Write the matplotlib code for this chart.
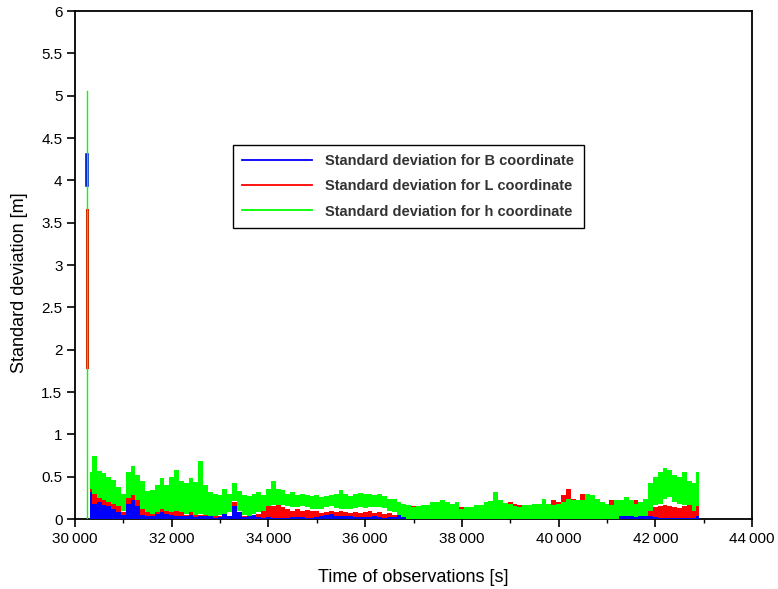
import numpy as np
import matplotlib
matplotlib.use("Agg")
from matplotlib import pyplot as plt
from matplotlib.lines import Line2D
from matplotlib.ticker import MultipleLocator, FuncFormatter

plt.rcParams['font.family'] = ['Liberation Sans', 'DejaVu Sans']

# epochs of the band data (s), one every 100 s
t_obs = np.arange(30300, 43000, 100)

# start-up spike at the first epoch: visible (low, high) of each curve
t_spike = 30250
B_spike = [3.95, 4.30]
L_spike = [1.80, 3.65]
h_spike = [0.00, 5.05]

# h coordinate, upper / lower envelope of the noisy curve [m]
h_hi = [0.55, 0.75, 0.57, 0.54, 0.50, 0.46, 0.38,
        0.30, 0.55, 0.63, 0.52, 0.45, 0.33, 0.34, 0.40, 0.48, 0.40,
        0.50, 0.58, 0.45, 0.42, 0.48, 0.44, 0.68, 0.40, 0.32, 0.30,
        0.28, 0.36, 0.30, 0.42, 0.33, 0.28, 0.27, 0.30, 0.32, 0.28,
        0.36, 0.45, 0.36, 0.34, 0.30, 0.32, 0.28, 0.30, 0.28, 0.27,
        0.28, 0.26, 0.27, 0.28, 0.30, 0.34, 0.30, 0.27, 0.30, 0.31,
        0.29, 0.30, 0.28, 0.30, 0.27, 0.24, 0.24, 0.20, 0.18, 0.16,
        0.14, 0.15, 0.16, 0.17, 0.20, 0.20, 0.22, 0.20, 0.18, 0.20,
        0.12, 0.14, 0.14, 0.16, 0.17, 0.20, 0.21, 0.32, 0.22, 0.19,
        0.18, 0.15, 0.14, 0.16, 0.17, 0.18, 0.18, 0.24, 0.18, 0.17,
        0.18, 0.20, 0.24, 0.22, 0.23, 0.22, 0.30, 0.28, 0.24, 0.20,
        0.18, 0.17, 0.22, 0.22, 0.26, 0.22, 0.18, 0.20, 0.24, 0.42,
        0.50, 0.55, 0.60, 0.58, 0.52, 0.50, 0.56, 0.45, 0.42, 0.56]
h_lo = [0.35, 0.30, 0.25, 0.22, 0.20, 0.18, 0.15,
        0.10, 0.25, 0.28, 0.22, 0.12, 0.08, 0.06, 0.08, 0.12, 0.10,
        0.08, 0.10, 0.08, 0.06, 0.08, 0.05, 0.06, 0.05, 0.04, 0.03,
        0.05, 0.06, 0.08, 0.21, 0.09, 0.05, 0.04, 0.06, 0.08, 0.10,
        0.15, 0.17, 0.17, 0.16, 0.15, 0.14, 0.14, 0.15, 0.14, 0.12,
        0.12, 0.12, 0.14, 0.15, 0.13, 0.12, 0.12, 0.12, 0.13, 0.14,
        0.13, 0.14, 0.14, 0.14, 0.13, 0.10, 0.08, 0.05, 0.02, 0.00,
        0.00, 0.00, 0.00, 0.00, 0.00, 0.00, 0.00, 0.00, 0.00, 0.00,
        0.00, 0.00, 0.00, 0.00, 0.00, 0.00, 0.00, 0.00, 0.00, 0.00,
        0.00, 0.00, 0.00, 0.00, 0.00, 0.00, 0.00, 0.00, 0.00, 0.00,
        0.00, 0.00, 0.00, 0.00, 0.00, 0.00, 0.00, 0.00, 0.00, 0.00,
        0.00, 0.00, 0.00, 0.03, 0.04, 0.03, 0.02, 0.04, 0.04, 0.10,
        0.17, 0.18, 0.24, 0.26, 0.20, 0.18, 0.17, 0.16, 0.10, 0.15]

# L coordinate, upper envelope [m]
L_hi = [0.45, 0.40, 0.38, 0.30, 0.25, 0.22, 0.15,
        0.08, 0.25, 0.30, 0.22, 0.12, 0.08, 0.10, 0.12, 0.15, 0.12,
        0.10, 0.15, 0.08, 0.05, 0.08, 0.06, 0.05, 0.10, 0.04, 0.03,
        0.04, 0.05, 0.04, 0.20, 0.06, 0.04, 0.06, 0.05, 0.06, 0.10,
        0.16, 0.15, 0.16, 0.14, 0.12, 0.10, 0.12, 0.10, 0.11, 0.09,
        0.10, 0.07, 0.08, 0.10, 0.08, 0.10, 0.08, 0.07, 0.08, 0.07,
        0.08, 0.09, 0.07, 0.08, 0.06, 0.07, 0.05, 0.03, 0.03, 0.16,
        0.15, 0.10, 0.09, 0.08, 0.12, 0.15, 0.10, 0.12, 0.16, 0.12,
        0.14, 0.08, 0.08, 0.10, 0.12, 0.13, 0.12, 0.14, 0.15, 0.16,
        0.20, 0.18, 0.17, 0.12, 0.14, 0.12, 0.15, 0.20, 0.16, 0.22,
        0.20, 0.28, 0.36, 0.24, 0.18, 0.30, 0.14, 0.08, 0.06, 0.05,
        0.10, 0.22, 0.12, 0.08, 0.06, 0.12, 0.22, 0.10, 0.08, 0.12,
        0.14, 0.15, 0.16, 0.15, 0.14, 0.13, 0.15, 0.16, 0.12, 0.15]

# B coordinate, upper envelope [m]
B_hi = [0.32, 0.18, 0.20, 0.16, 0.15, 0.12, 0.08,
        0.05, 0.18, 0.22, 0.15, 0.05, 0.03, 0.04, 0.06, 0.08, 0.06,
        0.05, 0.04, 0.03, 0.03, 0.05, 0.02, 0.03, 0.04, 0.03, 0.01,
        0.02, 0.06, 0.03, 0.15, 0.08, 0.02, 0.03, 0.05, 0.02, 0.01,
        0.02, 0.01, 0.01, 0.01, 0.01, 0.02, 0.02, 0.02, 0.01, 0.01,
        0.02, 0.03, 0.05, 0.06, 0.04, 0.03, 0.04, 0.03, 0.02, 0.02,
        0.02, 0.02, 0.03, 0.02, 0.01, 0.02, 0.02, 0.05, 0.04, 0.02,
        0.01, 0.01, 0.01, 0.01, 0.01, 0.01, 0.01, 0.01, 0.01, 0.01,
        0.01, 0.01, 0.01, 0.01, 0.01, 0.01, 0.01, 0.01, 0.01, 0.01,
        0.01, 0.01, 0.01, 0.01, 0.01, 0.01, 0.01, 0.01, 0.01, 0.01,
        0.01, 0.01, 0.01, 0.01, 0.01, 0.01, 0.02, 0.03, 0.02, 0.02,
        0.02, 0.03, 0.04, 0.06, 0.05, 0.05, 0.03, 0.06, 0.05, 0.04,
        0.02, 0.01, 0.01, 0.01, 0.01, 0.01, 0.01, 0.01, 0.01, 0.03]

labels = ['Standard deviation for B coordinate',
          'Standard deviation for L coordinate',
          'Standard deviation for h coordinate']
col_B, col_L, col_h = '#0000ff', '#ff0000', '#00ff00'

fig = plt.figure(figsize=(7.78, 5.89), dpi=100)
ax = fig.add_axes([0.0964, 0.1188, 0.8702, 0.8625])

# noisy bands: red underneath, blue over it, green on top
ax.fill_between(t_obs, 0, L_hi, step='mid', color=col_L, lw=0, zorder=2)
ax.fill_between(t_obs, 0, B_hi, step='mid', color=col_B, lw=0, zorder=3)
ax.fill_between(t_obs, h_lo, h_hi, step='mid', color=col_h, lw=0, zorder=4)

ax.plot([t_spike, t_spike], B_spike, color=col_B, lw=2.6, zorder=2.5)
ax.plot([t_spike, t_spike], L_spike, color=col_L, lw=2.2, zorder=2.6)
ax.plot([t_spike, t_spike], h_spike, color=col_h, lw=1.0, zorder=4.5)

ax.set_xlim(30000, 44000)
ax.set_ylim(0, 6)
ax.xaxis.set_major_locator(MultipleLocator(2000))
ax.xaxis.set_minor_locator(MultipleLocator(1000))
ax.yaxis.set_major_locator(MultipleLocator(0.5))
ax.xaxis.set_major_formatter(FuncFormatter(lambda v, p: '{:,.0f}'.format(v).replace(',', '\u2009')))
ax.yaxis.set_major_formatter(FuncFormatter(lambda v, p: '{:g}'.format(v)))
ax.tick_params(axis='both', which='major', direction='out', length=6, width=1.2,
               labelsize=11, colors='black', pad=3)
ax.tick_params(axis='x', which='minor', direction='out', length=3, width=1.0)
for s in ax.spines.values():
    s.set_linewidth(1.3)

ax.set_xlabel('Time of observations [s]', fontsize=13)
ax.set_ylabel('Standard deviation [m]', fontsize=13)
ax.xaxis.set_label_coords(0.5, -0.099)
ax.yaxis.set_label_coords(-0.069, 0.465)

handles = [Line2D([], [], color=c, lw=1.3) for c in (col_B, col_L, col_h)]
leg = ax.legend(handles, labels, loc='upper left',
                bbox_to_anchor=(233 / 778, 1 - 145 / 589), bbox_transform=fig.transFigure,
                fancybox=False, framealpha=1, edgecolor='black', borderpad=0.64,
                handlelength=4.8, handletextpad=0.9, labelspacing=0.76,
                borderaxespad=0, prop={'size': 10.5, 'weight': 'bold'})
leg.get_frame().set_linewidth(1.0)
for txt in leg.get_texts():
    txt.set_color('#333333')

fig.savefig('out.png', dpi=100)
